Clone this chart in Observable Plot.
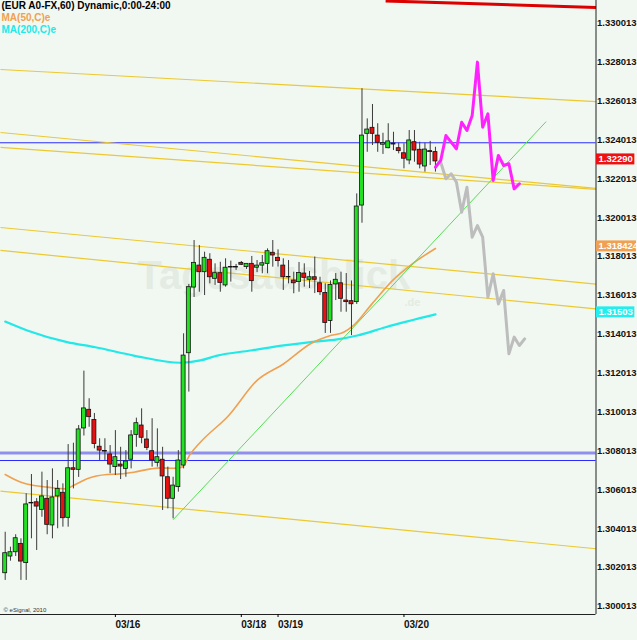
<!DOCTYPE html>
<html><head><meta charset="utf-8">
<script src="https://cdn.jsdelivr.net/npm/d3@7"></script>
<script src="https://cdn.jsdelivr.net/npm/@observablehq/plot@0.6"></script>
<style>
html,body{margin:0;padding:0;background:#f1f8f1;}
#chart svg{display:block;}
</style>
</head><body><div id="chart"></div>
<script>
// ---- hourly candles (EUR A0-FX, 60) ----
const opens  = [1.30171,1.30257,1.30279,1.30322,1.30223,1.30533,1.30536,1.30497,1.30554,1.30417,
                1.30566,1.30585,1.30456,1.30711,1.30703,1.30916,1.31012,1.30960,1.30822,1.30800,
                1.30782,1.30717,1.30730,1.30708,1.30755,1.30883,1.30931,1.30859,1.30799,1.30739,
                1.30755,1.30665,1.30554,1.30614,1.30725,1.31303,1.31641,1.31754,1.31720,1.31784,
                1.31686,1.31715,1.31652,1.31747,1.31747,1.31768,1.31746,1.31763,1.31743,1.31754,
                1.31763,1.31820,1.31794,1.31754,1.31695,1.31677,1.31669,1.31713,1.31681,1.31694,
                1.31663,1.31613,1.31469,1.31657,1.31663,1.31574,1.31571,1.31566,1.32063,1.32432,
                1.32463,1.32423,1.32376,1.32358,1.32382,1.32358,1.32332,1.32295,1.32389,1.32350,
                1.32264,1.32343,1.32338];
const highs  = [1.30382,1.30305,1.30369,1.30348,1.30580,1.30679,1.30555,1.30691,1.30648,1.30708,
                1.30648,1.30631,1.30833,1.30840,1.30931,1.31211,1.31069,1.30993,1.30863,1.30863,
                1.30828,1.30905,1.30819,1.30802,1.30905,1.30969,1.31017,1.30905,1.30966,1.30914,
                1.30819,1.30717,1.30665,1.30802,1.31403,1.31657,1.31883,1.31857,1.31823,1.31815,
                1.31763,1.31771,1.31789,1.31777,1.31760,1.31775,1.31760,1.31801,1.31780,1.31806,
                1.31840,1.31883,1.31835,1.31789,1.31780,1.31720,1.31770,1.31763,1.31724,1.31798,
                1.31694,1.31660,1.31675,1.31713,1.31720,1.31713,1.31675,1.32123,1.32664,1.32509,
                1.32583,1.32484,1.32435,1.32484,1.32440,1.32384,1.32381,1.32449,1.32449,1.32389,
                1.32384,1.32393,1.32363];
const lows   = [1.30134,1.30233,1.30257,1.30134,1.30134,1.30348,1.30288,1.30459,1.30369,1.30348,
                1.30400,1.30408,1.30408,1.30605,1.30664,1.30877,1.30922,1.30811,1.30751,1.30751,
                1.30683,1.30674,1.30653,1.30665,1.30708,1.30819,1.30837,1.30802,1.30717,1.30717,
                1.30494,1.30502,1.30451,1.30588,1.30708,1.31103,1.31590,1.31617,1.31600,1.31660,
                1.31652,1.31617,1.31643,1.31669,1.31729,1.31754,1.31734,1.31617,1.31718,1.31712,
                1.31712,1.31746,1.31746,1.31626,1.31660,1.31609,1.31617,1.31643,1.31636,1.31610,
                1.31600,1.31405,1.31405,1.31574,1.31514,1.31514,1.31394,1.31554,1.31972,1.32337,
                1.32372,1.32337,1.32326,1.32355,1.32346,1.32329,1.32252,1.32273,1.32286,1.32252,
                1.32235,1.32269,1.32235];
const closes = [1.30274,1.30279,1.30351,1.30231,1.30525,1.30530,1.30514,1.30566,1.30420,1.30561,
                1.30605,1.30454,1.30711,1.30703,1.30911,1.31019,1.30974,1.30836,1.30802,1.30797,
                1.30730,1.30768,1.30720,1.30746,1.30880,1.30943,1.30868,1.30816,1.30751,1.30768,
                1.30669,1.30554,1.30622,1.30751,1.31291,1.31643,1.31768,1.31720,1.31794,1.31694,
                1.31715,1.31665,1.31743,1.31744,1.31744,1.31758,1.31763,1.31674,1.31754,1.31766,
                1.31828,1.31806,1.31777,1.31694,1.31693,1.31663,1.31716,1.31691,1.31694,1.31681,
                1.31617,1.31459,1.31654,1.31681,1.31583,1.31566,1.31555,1.32058,1.32423,1.32454,
                1.32432,1.32386,1.32384,1.32393,1.32377,1.32343,1.32304,1.32398,1.32346,1.32274,
                1.32351,1.32338,1.32290];

// ---- moving averages (sampled along the bars) ----
const ma50Idx  = [0,3,5.5,8,11.5,13,15.6,19.4,22,24.5,27.7,29.6,32.1,33.7,35.3,37.2,42.6,48,53.1,58.2,62,64.5,66.4,69.9,73.8,77.6,82];
const ma50Val  = [1.30679,1.30639,1.30622,1.30614,1.30605,1.30622,1.30657,1.30679,1.30682,1.30691,1.30708,1.30713,1.30711,1.30717,1.30785,1.30845,1.30983,1.31163,1.31249,1.31352,1.31394,1.31411,1.31446,1.31557,1.31677,1.31763,1.31842];
const ma200Idx = [0,4.2,11.8,17.2,24.5,33.4,37.2,40.4,46.8,53.1,58.2,63.3,67.1,72.5,82];
const ma200Val = [1.31466,1.31420,1.31360,1.31334,1.31291,1.31254,1.31266,1.31291,1.31317,1.31343,1.31360,1.31374,1.31394,1.31437,1.31503];

// ---- projected paths ----
const magIdx = [82,83,84,86,87,88,89,90,91,92,93,94,95,96,97,98];
const magVal = [1.32260,1.32295,1.32423,1.32355,1.32492,1.32449,1.32526,1.32801,1.32466,1.32535,1.32192,1.32321,1.32269,1.32278,1.32149,1.32175];
const grayIdx = [83,84,85,86,87,88,89,90,91,92,93,94,95,96,97,98,99];
const grayVal = [1.32286,1.32201,1.32226,1.32183,1.32029,1.32157,1.31900,1.31960,1.31900,1.31591,1.31712,1.31557,1.31626,1.31300,1.31386,1.31343,1.31377];

// ---- drawn trend lines (bar index / price at both ends) ----
const trendI1 = [-0.9,-0.9,-0.9,-0.9,-0.9,-0.9,72.5,32];
const trendV1 = [1.32763,1.32439,1.32362,1.31950,1.31832,1.30593,1.33116,1.30446];
const trendI2 = [112.6,112.6,112.6,112.6,112.6,112.6,112.6,103.1];
const trendV2 = [1.32598,1.32151,1.32146,1.31659,1.31531,1.30297,1.33082,1.32495];
const trendKind = ["y","y","y","y","y","y","red","green"];
const hLevels = [1.32386, 1.30751];
const hLevelThick = [1.30789];

// ---- axes ----
const yTicks = [1.300013,1.302013,1.304013,1.306013,1.308013,1.310013,1.312013,1.314013,1.316013,1.318013,1.320013,1.322013,1.324013,1.326013,1.328013,1.330013];
const dateTicks = [21,45,52,76];
const dateLabels = ["03/16","03/18","03/19","03/20"];
const priceTags = [
  {v:1.32290, label:"1.32290", color:"#ee1111"},
  {v:1.318424, label:"1.318424", color:"#f0a050"},
  {v:1.31503, label:"1.31503", color:"#22eeee"}
];

const xDomain = [-0.896, 112.6];
const yDomain = [1.299586, 1.331181];

const candles = opens.map((o,i)=>({i, o, h:highs[i], l:lows[i], c:closes[i]}));
const ma50 = ma50Idx.map((i,k)=>({i, v:ma50Val[k]}));
const ma200 = ma200Idx.map((i,k)=>({i, v:ma200Val[k]}));
const mag = magIdx.map((i,k)=>({i, v:magVal[k]}));
const gray = grayIdx.map((i,k)=>({i, v:grayVal[k]}));
const trends = trendI1.map((a,k)=>({i1:a, v1:trendV1[k], i2:trendI2[k], v2:trendV2[k], kind:trendKind[k]}));

const FONT = "Arial, 'Liberation Sans', sans-serif";
const xMax = xDomain[1];

const chart = Plot.plot({
  width: 637, height: 640,
  marginLeft: 0, marginRight: 41.5, marginTop: 0, marginBottom: 26,
  x: {domain: xDomain, axis: null},
  y: {domain: yDomain, axis: null},
  style: {background: "#f1f8f1", fontFamily: FONT, overflow: "visible"},
  marks: [
    // watermark
    Plot.text(["Tagesausblick"], {text: d=>d, frameAnchor:"top-left", dx:137, dy:276, lineAnchor:"middle", textAnchor:"start", fontSize:40, fontWeight:"bold", fill:"#e3ebe3"}),
    Plot.text([".de"], {text: d=>d, frameAnchor:"top-left", dx:404, dy:302, lineAnchor:"middle", textAnchor:"start", fontSize:11, fontWeight:"bold", fill:"#e3ebe3"}),
    // horizontal levels
    Plot.ruleY(hLevelThick, {stroke:"#8f8fee", strokeWidth:3}),
    Plot.ruleY(hLevels, {stroke:"#2b2bff", strokeWidth:1}),
    // trend lines
    Plot.link(trends.filter(d=>d.kind==="y"), {x1:"i1", y1:"v1", x2:"i2", y2:"v2", stroke:"#ecc832", strokeWidth:1.2}),
    Plot.link(trends.filter(d=>d.kind==="red"), {x1:"i1", y1:"v1", x2:"i2", y2:"v2", stroke:"#dd0000", strokeWidth:3}),
    // moving averages
    Plot.line(ma200, {x:"i", y:"v", stroke:"#22e8e8", strokeWidth:2.2, curve:"monotone-x"}),
    Plot.line(ma50, {x:"i", y:"v", stroke:"#f0a050", strokeWidth:1.6, curve:"monotone-x"}),
    Plot.link(trends.filter(d=>d.kind==="green"), {x1:"i1", y1:"v1", x2:"i2", y2:"v2", stroke:"#55dd55", strokeWidth:1}),
    // candles
    Plot.ruleX(candles, {x:"i", y1:"l", y2:"h", stroke:"#3a3a3a", strokeWidth:1}),
    Plot.rect(candles, {x1: d=>d.i-0.38, x2: d=>d.i+0.38, y1:"o", y2:"c",
      fill: d=> d.c > d.o ? "#22e022" : (d.c < d.o ? "#e81010" : "#111"),
      stroke:"#111", strokeWidth:0.8}),
    // projections
    Plot.line(gray, {x:"i", y:"v", stroke:"#bdbdbd", strokeWidth:3}),
    Plot.line(mag, {x:"i", y:"v", stroke:"#ff22ff", strokeWidth:3}),
    // frame (right + bottom)
    Plot.ruleX([xMax], {stroke:"#222", strokeWidth:1}),
    Plot.ruleY([yDomain[0]], {stroke:"#222", strokeWidth:1}),
    // axes
    Plot.axisY(yTicks, {anchor:"right", tickSize:0, tickPadding:1, tickFormat: d=>d.toFixed(6), fontWeight:"bold", fontSize:9.5, fill:"#111", label:null}),
    Plot.axisX(dateTicks, {anchor:"bottom", tickSize:3, tickPadding:3, tickFormat: d=>dateLabels[dateTicks.indexOf(d)], textAnchor:"start", fontWeight:"bold", fontSize:10, fill:"#111", label:null}),
    // price tags on the right
    Plot.rect(priceTags, {x1: ()=>xMax, x2: ()=>xMax, y1:"v", y2:"v", fill:"color",
      insetLeft:0.5, insetRight:0, insetTop:-5.5, insetBottom:-5.5, dy:-2}),
    Plot.text(priceTags, {x: ()=>xMax, y:"v", text:"label", fill:"white", textAnchor:"start", dx:2.5, dy:-2, fontWeight:"bold", fontSize:9.5}),
    // legend
    Plot.text(["(EUR A0-FX,60) Dynamic,0:00-24:00"], {text:d=>d, frameAnchor:"top-left", dx:1, dy:1, lineAnchor:"top", textAnchor:"start", fontWeight:"bold", fontSize:10, fill:"#000"}),
    Plot.text(["MA(50,C)e"], {text:d=>d, frameAnchor:"top-left", dx:1, dy:13, lineAnchor:"top", textAnchor:"start", fontWeight:"bold", fontSize:10, fill:"#f0a050"}),
    Plot.text(["MA(200,C)e"], {text:d=>d, frameAnchor:"top-left", dx:1, dy:25.5, lineAnchor:"top", textAnchor:"start", fontWeight:"bold", fontSize:10, fill:"#22e8e8"}),
    Plot.text(["© eSignal, 2010"], {text:d=>d, frameAnchor:"bottom-left", dx:3, dy:-3, lineAnchor:"bottom", textAnchor:"start", fontSize:6, fill:"#333"})
  ]
});
document.getElementById("chart").appendChild(chart);

// widen the price tag boxes to fit their labels
(function(){
  const groups = chart.querySelectorAll("g[aria-label='rect']");
  const tagGroup = groups[groups.length-1];
  let tagTextGroup = null;
  chart.querySelectorAll("g[aria-label='text']").forEach(g=>{ if (g.textContent.includes("1.32290")) tagTextGroup = g; });
  if (tagGroup && tagTextGroup) {
    const tr = tagGroup.querySelectorAll("rect");
    const tt = tagTextGroup.querySelectorAll("text");
    tt.forEach((t,k)=>{ const bb = t.getBBox(); if (tr[k]) tr[k].setAttribute("width", Math.min(bb.width + 4, 40)); });
  }
})();
</script>
</body></html>
